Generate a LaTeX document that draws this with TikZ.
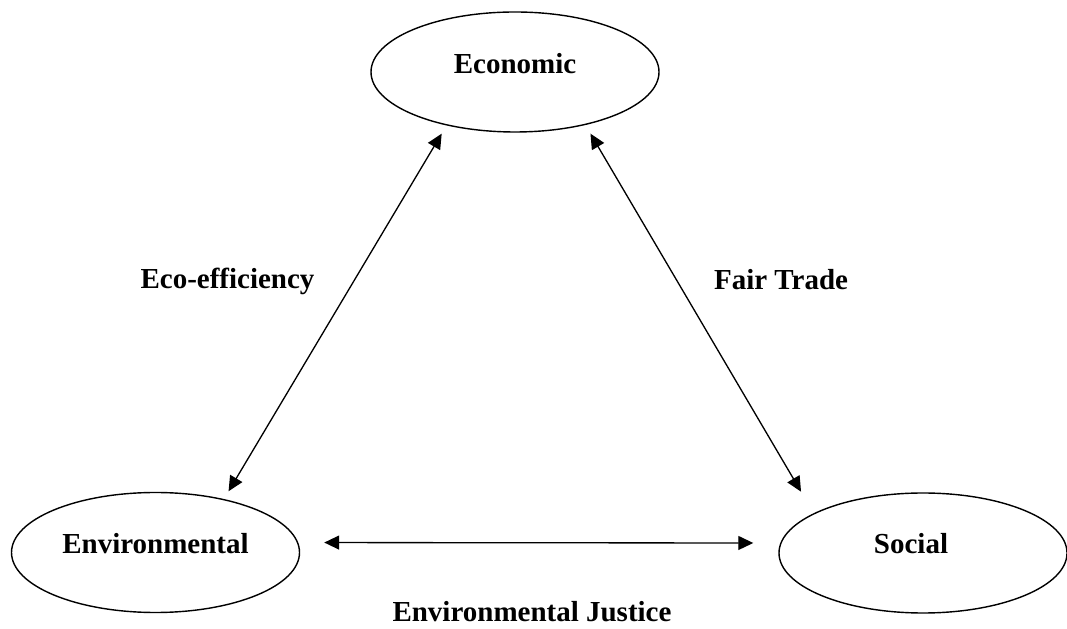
\documentclass[tikz,border=0pt]{standalone}
\usepackage{fontspec}
\setmainfont{Liberation Serif}
\usetikzlibrary{shapes.geometric, arrows.meta}

\begin{document}
\begin{tikzpicture}[
    font = \fontsize{16.5}{20}\selectfont\bfseries,
    blob/.style = {draw, ellipse, line width = 0.8pt, minimum width = 5.76cm, minimum height = 2.4cm, inner sep = 0pt},
    link/.style = {<->, >={Triangle[length = 0.3cm, width = 0.28cm]}, line width = 0.75pt}
]
            \useasboundingbox (0, 0) rectangle (21.34, 12.56);

            \node[blob, label = {[yshift = 0.16cm]center:Economic}] (eco) at (10.3, 11.12) {};
            \node[blob, label = {[yshift = 0.17cm]center:Environmental}] (env) at (3.11, 1.51) {};
            \node[blob, label = {[xshift = -0.24cm, yshift = 0.18cm]center:Social}] (soc) at (18.46, 1.5) {};

            \node[anchor = base] (effic) at (4.55, 6.78) {Eco-efficiency};
            \node[anchor = base] (trade) at (15.62, 6.76) {Fair Trade};
            \node[anchor = base, inner sep = 0pt] (justice) at (10.64, 0.13) {Environmental Justice};

            \draw[link, shorten < = 0.19cm, shorten > = 0.18cm] (eco.218) -- (env.38);
            \draw[link, shorten < = 0.2cm, shorten > = 0.5cm] (eco.323) -- (soc.160);
            \draw[link, shorten < = 0.52cm, shorten > = 0.54cm] (env.4) -- (soc.176);
        \end{tikzpicture}
\end{document}
